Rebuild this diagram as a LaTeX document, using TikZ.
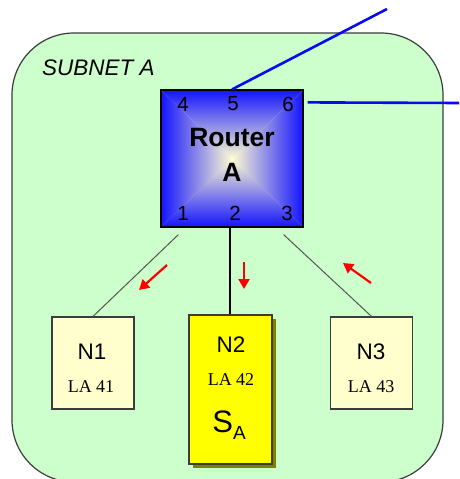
\documentclass[tikz,border=0pt]{standalone}
\usepackage{fontspec}
\setmainfont{Liberation Sans}
\newfontfamily\serifLA{Liberation Serif}
\usetikzlibrary{arrows.meta,shadows,calc}

\definecolor{netgreen}{RGB}{204,255,204}
\definecolor{cream}{RGB}{255,255,206}
\definecolor{nodeyellow}{RGB}{255,255,0}
\definecolor{shadowolive}{RGB}{128,128,0}
\definecolor{rblue}{RGB}{20,20,255}
\definecolor{rcenter}{RGB}{255,252,210}
\definecolor{linkblue}{RGB}{10,10,240}
\definecolor{wiregray}{RGB}{80,90,80}
\definecolor{edgegray}{RGB}{60,60,60}

\tikzset{
  subnet/.style={draw=edgegray, line width=1.2pt, fill=netgreen, rounded corners=62pt},
  hostbox/.style={draw=edgegray, line width=1.2pt, fill=cream, minimum width=82pt, minimum height=92pt, inner sep=0pt},
  serverbox/.style={draw=edgegray, line width=1.2pt, fill=nodeyellow, minimum width=83pt, minimum height=149pt, inner sep=0pt,
    general shadow={fill=shadowolive, shadow xshift=4pt, shadow yshift=-4pt}},
  routerbox/.style={draw=black, line width=1.2pt, minimum width=142pt, minimum height=137pt, inner sep=0pt},
  uplink/.style={draw=linkblue, line width=2.6pt},
  wire/.style={draw=wiregray, line width=1pt},
  flow/.style={draw=red, line width=2.2pt, -{Triangle[length=10pt,width=11pt]}},
  port/.style={font=\fontsize{20.5}{20.5}\selectfont},
  hostname/.style={font=\fontsize{22.5}{22.5}\selectfont},
  laddr/.style={font=\serifLA\fontsize{18}{18}\selectfont}
}

\begin{document}
\begin{tikzpicture}[x=1pt, y=-1pt]
  \useasboundingbox (0,0) rectangle (459,479);
  \fill[white] (0,0) rectangle (459,479);

  % subnet area
  \path[subnet] (12,33) rectangle (443,482);
  \node[font=\itshape\fontsize{22.5}{22.5}\selectfont, anchor=west, inner sep=0pt] (subnetlabel) at (42,68) {SUBNET A};

  % router with a four-sided gradient towards the centre
  \begin{scope}
    \clip (161,90) -- (303,90) -- (232,158.5) -- cycle;
    \shade[top color=rblue, bottom color=rcenter] (161,90) rectangle (303,158.5);
  \end{scope}
  \begin{scope}
    \clip (161,227) -- (303,227) -- (232,158.5) -- cycle;
    \shade[bottom color=rblue, top color=rcenter] (161,158.5) rectangle (303,227);
  \end{scope}
  \begin{scope}
    \clip (161,90) -- (161,227) -- (232,158.5) -- cycle;
    \shade[left color=rblue, right color=rcenter] (161,90) rectangle (232,227);
  \end{scope}
  \begin{scope}
    \clip (303,90) -- (303,227) -- (232,158.5) -- cycle;
    \shade[right color=rblue, left color=rcenter] (232,90) rectangle (303,227);
  \end{scope}
  \node[routerbox] (router) at (232,158.5) {};
  \node[font=\bfseries\fontsize{26.5}{26.5}\selectfont] (routername) at (232,138) {Router};
  \node[font=\bfseries\fontsize{26.5}{26.5}\selectfont] (routerletter) at (232,172) {A};
  \node[port] (p4) at (183,104) {4};
  \node[port] (p5) at (233,104) {5};
  \node[port] (p6) at (288,104) {6};
  \node[port] (p1) at (183,213) {1};
  \node[port] (p2) at (235,213) {2};
  \node[port] (p3) at (287,213) {3};

  % links leaving the subnet
  \coordinate (farup) at (387,9);
  \coordinate (farright) at (459,103);
  \draw[uplink] (router.north) -- (farup);
  \draw[uplink] ([xshift=4pt,yshift=-13pt]router.north east) -- (farright);

  % hosts
  \node[hostbox] (n1) at (93,363) {};
  \node[hostname] at (92,352) {N1};
  \node[laddr] at (91,387) {LA 41};

  \node[serverbox] (n2) at (230.5,389.5) {};
  \node[hostname] at (231,345) {N2};
  \node[laddr] at (231,380) {LA 42};
  \node[font=\fontsize{31}{31}\selectfont] at (229,425) {S\raisebox{-7pt}{\fontsize{19}{19}\selectfont A}};

  \node[hostbox] (n3) at (371.5,363) {};
  \node[hostname] at (371,352) {N3};
  \node[laddr] at (371,387) {LA 43};

  % wires from router ports to hosts
  \draw[wire] ([xshift=18pt,yshift=-7pt]router.south west) -- (n1.north);
  \draw[draw=black, line width=1.2pt] ([xshift=-2pt]router.south) -- ([xshift=-0.5pt]n2.north);
  \draw[wire] ([xshift=-20pt,yshift=-7pt]router.south east) -- (n3.north);

  % traffic direction arrows
  \coordinate (a1s) at (167,265); \coordinate (a1e) at (139,290);
  \coordinate (a2s) at (244,262); \coordinate (a2e) at (244,289);
  \coordinate (a3s) at (371,283); \coordinate (a3e) at (343,263);
  \draw[flow] (a1s) -- (a1e);
  \draw[flow] (a2s) -- (a2e);
  \draw[flow] (a3s) -- (a3e);
\end{tikzpicture}
\end{document}
